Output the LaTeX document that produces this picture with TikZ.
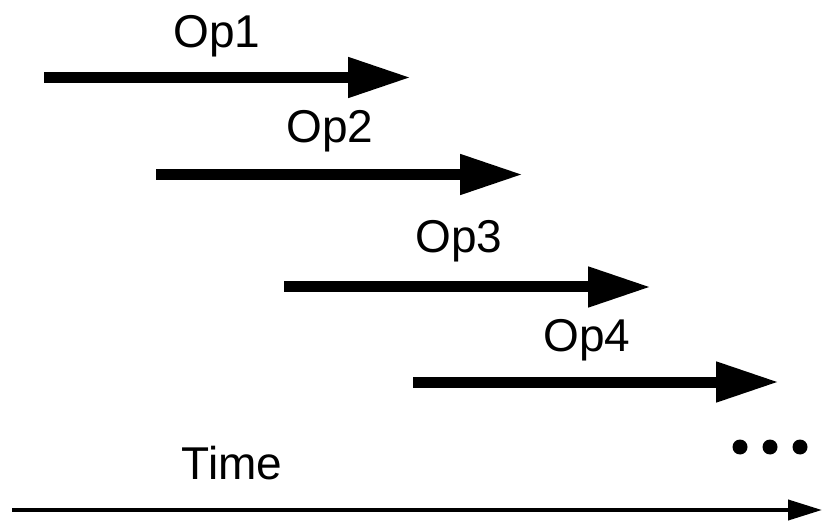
\documentclass[tikz,border=0pt]{standalone}
\usepackage{fontspec}
\setmainfont{Liberation Sans}
\usetikzlibrary{arrows.meta}

\begin{document}
\begin{tikzpicture}[
    x=1pt, y=-1pt,
    oparrow/.style={line width=11pt, -{Triangle[length=63pt, width=38pt]}},
    timearrow/.style={line width=4pt, -{Triangle[length=34pt, width=20pt]}},
    oplabel/.style={anchor=base, inner sep=0pt, font=\fontsize{46}{52}\selectfont},
    dot/.style={circle, fill=black, inner sep=0pt, minimum size=15pt}
]
\useasboundingbox (0,0) rectangle (822,521);

% Operations
\coordinate (s1) at (44,77.5);
\coordinate (e1) at (411,77.5);
\coordinate (s2) at (156,174.5);
\coordinate (e2) at (523,174.5);
\coordinate (s3) at (284,287);
\coordinate (e3) at (651,287);
\coordinate (s4) at (413,382);
\coordinate (e4) at (779,382);

\draw[oparrow] (s1) -- (e1);
\draw[oparrow] (s2) -- (e2);
\draw[oparrow] (s3) -- (e3);
\draw[oparrow] (s4) -- (e4);

\node[oplabel] (op1) at (217,48) {Op1};
\node[oplabel] (op2) at (330,143) {Op2};
\node[oplabel] (op3) at (459,253) {Op3};
\node[oplabel] (op4) at (587,352) {Op4};

% More to come
\node[dot] (dot1) at (740,447) {};
\node[dot] (dot2) at (770,447) {};
\node[dot] (dot3) at (800,447) {};

% Time axis
\coordinate (t0) at (12,510);
\coordinate (t1) at (822,510);
\draw[timearrow] (t0) -- (t1);
\node[oplabel] (time) at (232,479) {Time};

\end{tikzpicture}
\end{document}
